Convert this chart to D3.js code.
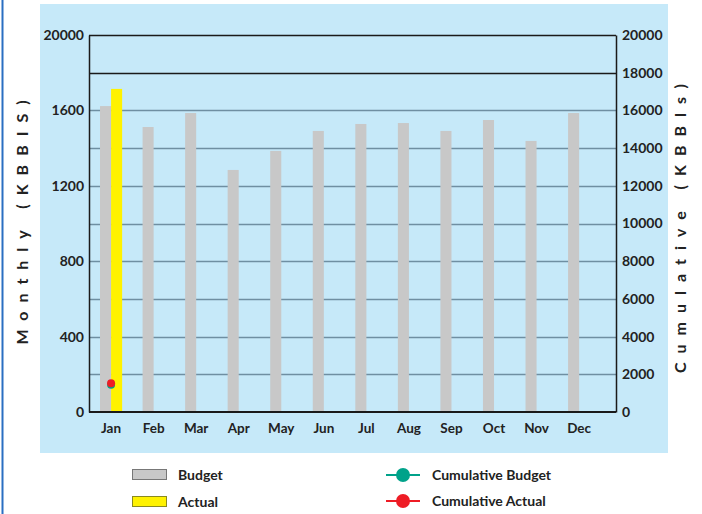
<!DOCTYPE html>
<html><head><meta charset="utf-8">
<script src="https://cdn.jsdelivr.net/npm/d3@7"></script>
<style>
html,body{margin:0;padding:0;background:#fff;}
svg{display:block;}
text{font-family:Lato, "Noto Sans", sans-serif;font-weight:700;fill:#222;}
</style></head>
<body><svg id="c" width="702" height="514"></svg>
<script>
const months = ["Jan","Feb","Mar","Apr","May","Jun","Jul","Aug","Sep","Oct","Nov","Dec"];
const budget = [1623,1512,1586,1284,1385,1491,1528,1533,1491,1549,1438,1586];
const actual = [1714,null,null,null,null,null,null,null,null,null,null,null];
const cumBudget = [1440,null,null,null,null,null,null,null,null,null,null,null];
const cumActual = [1530,null,null,null,null,null,null,null,null,null,null,null];
const leftTicks = [0,400,800,1200,1600,2000];
const leftTickLabels = ["0","400","800","1200","1600","20000"];
const rightTicks = [0,2000,4000,6000,8000,10000,12000,14000,16000,18000,20000];

const svg = d3.select("#c");
const L = 89, R = 616, T = 35, B = 412;

// outer frame
svg.append("rect").attr("x",40).attr("y",4).attr("width",628).attr("height",449).attr("fill","#c6e9f9");
svg.append("line").attr("x1",2.5).attr("x2",2.5).attr("y1",0).attr("y2",514).attr("stroke","#2a6fc2").attr("stroke-width",2);

const x = d3.scaleBand().domain(months).range([89.8, 600.4]).paddingInner(0.48).paddingOuter(0.24);
const xs = d3.scaleBand().domain(["Budget","Actual"]).range([0, x.bandwidth()]);
const yL = d3.scaleLinear().domain([0,2000]).range([B,T]);
const yR = d3.scaleLinear().domain([0,20000]).range([B,T]);

// gridlines
const grid = svg.append("g");
grid.selectAll("line").data(rightTicks.filter(d=>d>0)).join("line")
  .attr("x1",L).attr("x2",R)
  .attr("y1",d=>Math.round(yR(d))+0.5).attr("y2",d=>Math.round(yR(d))+0.5)
  .attr("stroke",d=> d>=18000 ? "#1a1a1a" : "#6f8fa2").attr("stroke-width",1.5);

// bars
svg.append("g").selectAll("rect").data(months.map((m,i)=>({m,v:budget[i]}))).join("rect")
  .attr("x",d=>x(d.m)+xs("Budget")).attr("width",xs.bandwidth())
  .attr("y",d=>yL(d.v)).attr("height",d=>B-yL(d.v)).attr("fill","#c8c8c8");
svg.append("g").selectAll("rect").data(months.map((m,i)=>({m,v:actual[i]})).filter(d=>d.v!=null)).join("rect")
  .attr("x",d=>x(d.m)+xs("Actual")).attr("width",xs.bandwidth())
  .attr("y",d=>yL(d.v)).attr("height",d=>B-yL(d.v)).attr("fill","#fff200");

// axes
const axL = svg.append("g").attr("transform",`translate(${L},0)`)
  .call(d3.axisLeft(yL).tickValues(leftTicks).tickSize(0).tickPadding(5).tickFormat((d,i)=>leftTickLabels[i]));
axL.select(".domain").attr("stroke","#1a1a1a").attr("stroke-width",1.5);
axL.selectAll("text").attr("font-size",14).attr("font-family","Lato").attr("font-weight",700).attr("fill","#222");
const axR = svg.append("g").attr("transform",`translate(${R},0)`)
  .call(d3.axisRight(yR).tickValues(rightTicks).tickSize(0).tickPadding(6).tickFormat(d3.format("d")));
axR.select(".domain").attr("stroke","#1a1a1a").attr("stroke-width",1.5);
axR.selectAll("text").attr("font-size",14).attr("font-family","Lato").attr("font-weight",700).attr("fill","#222");
const axB = svg.append("g").attr("transform",`translate(0,${B})`)
  .call(d3.axisBottom(x).tickSize(0).tickPadding(11));
axB.select(".domain").attr("d",`M${L},0H${R}`).attr("stroke","#1a1a1a").attr("stroke-width",2);
axB.selectAll("text").attr("font-size",13.5).attr("font-family","Lato").attr("font-weight",700).attr("fill","#222");

// cumulative points
const cx = m => x(m) + x.bandwidth()/2;
svg.append("g").selectAll("circle").data(months.map((m,i)=>({m,v:cumBudget[i]})).filter(d=>d.v!=null)).join("circle")
  .attr("cx",d=>cx(d.m)).attr("cy",d=>yR(d.v)).attr("r",4).attr("fill","#00a28a");
svg.append("g").selectAll("circle").data(months.map((m,i)=>({m,v:cumActual[i]})).filter(d=>d.v!=null)).join("circle")
  .attr("cx",d=>cx(d.m)).attr("cy",d=>yR(d.v)).attr("r",4).attr("fill","#ee1c25");

// axis titles
svg.append("text").attr("transform","translate(28,218) rotate(-90)").attr("text-anchor","middle")
  .attr("font-size",16).attr("letter-spacing","9px").text("Monthly (KBBIS)");
svg.append("text").attr("transform","translate(686,224) rotate(-90)").attr("text-anchor","middle")
  .attr("font-size",16).attr("letter-spacing","9px").text("Cumulative (KBBls)");

// legend
const lg = svg.append("g");
lg.append("rect").attr("x",132.5).attr("y",469.5).attr("width",34).attr("height",10).attr("fill","#c8c8c8").attr("stroke","#777").attr("stroke-width",1);
lg.append("text").attr("x",178).attr("y",480).attr("font-size",14).text("Budget");
lg.append("rect").attr("x",132.5).attr("y",496.5).attr("width",34).attr("height",10).attr("fill","#fff200").attr("stroke","#8a8a20").attr("stroke-width",1);
lg.append("text").attr("x",178).attr("y",507).attr("font-size",14).text("Actual");
[["Cumulative Budget","#00a28a",475],["Cumulative Actual","#ee1c25",501]].forEach(([t,c,y])=>{
  lg.append("line").attr("x1",386).attr("x2",420).attr("y1",y).attr("y2",y).attr("stroke",c).attr("stroke-width",2);
  lg.append("circle").attr("cx",403).attr("cy",y).attr("r",7).attr("fill",c);
  lg.append("text").attr("x",432).attr("y",y+5).attr("font-size",14).text(t);
});
</script></body></html>
